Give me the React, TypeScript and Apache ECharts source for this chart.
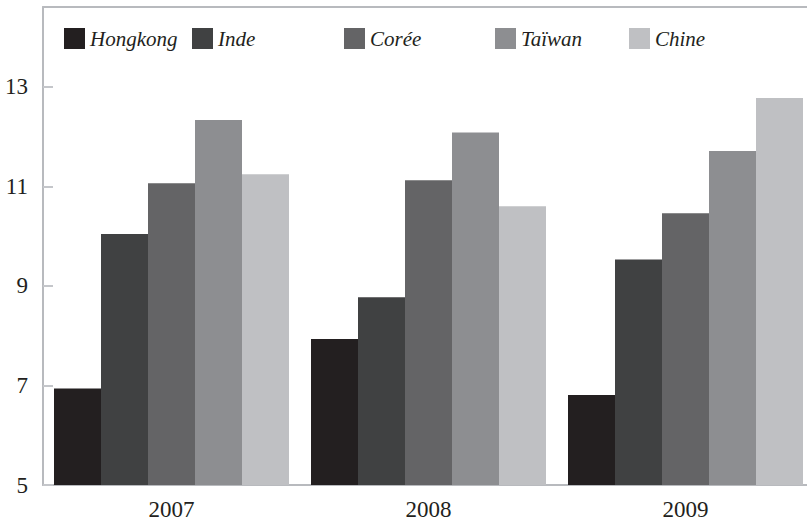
import React, { useEffect, useRef } from "react";
import * as echarts from "echarts";

const years = ["2007", "2008", "2009"];
const seriesNames = ["Hongkong", "Inde", "Corée", "Taïwan", "Chine"];
const hongkong = [6.94, 7.93, 6.81];
const inde = [10.04, 8.77, 9.53];
const coree = [11.06, 11.12, 10.46];
const taiwan = [12.33, 12.08, 11.71];
const chine = [11.24, 10.6, 12.77];
const yTicks = [5, 7, 9, 11, 13];

const seriesValues = [hongkong, inde, coree, taiwan, chine];
const colors = ["#231f20", "#404142", "#646466", "#8d8e91", "#bfc0c3"];
const legendLefts = [64, 192, 344, 495, 629];

export default function App() {
  const ref = useRef<HTMLDivElement>(null);
  useEffect(() => {
    if (!ref.current) return;
    const chart = echarts.init(ref.current, null, { renderer: "svg" });
    const font = "Liberation Serif";
    const axisLineStyle = { color: "#b8babe", width: 2 };
    chart.setOption({
      animation: false,
      backgroundColor: "#ffffff",
      textStyle: { fontFamily: font },
      legend: seriesNames.map((n, i) => ({
        data: [n],
        left: legendLefts[i],
        top: 28,
        padding: 0,
        itemWidth: 21,
        itemHeight: 21,
        icon: "rect",
        selectedMode: false,
        textStyle: {
          fontFamily: font,
          fontStyle: "italic",
          fontSize: 21,
          color: "#231f20",
        },
      })),
      grid: { left: 43, top: 7, right: 1, bottom: 38, containLabel: false },
      xAxis: [
        {
          type: "category",
          data: years,
          axisLine: { show: true, lineStyle: axisLineStyle },
          axisTick: { show: false },
          axisLabel: {
            fontFamily: font,
            fontSize: 23,
            color: "#231f20",
            margin: 13,
          },
        },
        {
          type: "category",
          data: years,
          position: "top",
          axisLine: { show: true, lineStyle: axisLineStyle },
          axisTick: { show: false },
          axisLabel: { show: false },
        },
      ],
      yAxis: {
        type: "value",
        min: 5,
        max: 14.6,
        interval: 2,
        axisLine: { show: true, lineStyle: axisLineStyle },
        axisTick: { show: true, inside: true, length: 10, lineStyle: { color: "#c4c6ca", width: 2 } },
        splitLine: { show: false },
        axisLabel: {
          fontFamily: font,
          fontSize: 23,
          color: "#231f20",
          margin: 15,
          showMaxLabel: false,
          formatter: (v: number) => (yTicks.indexOf(v) >= 0 ? String(v) : ""),
        },
      },
      series: seriesNames.map((n, i) => ({
        name: n,
        type: "bar",
        data: seriesValues[i],
        barWidth: 47,
        barGap: "0%",
        itemStyle: { color: colors[i] },
      })),
    });
    return () => chart.dispose();
  }, []);
  return (
    <div
      style={{ position: "absolute", left: 0, top: 0, width: 807, height: 523, overflow: "hidden", background: "#fff" }}
    >
      <div ref={ref} style={{ width: 815, height: 523 }} />
    </div>
  );
}
